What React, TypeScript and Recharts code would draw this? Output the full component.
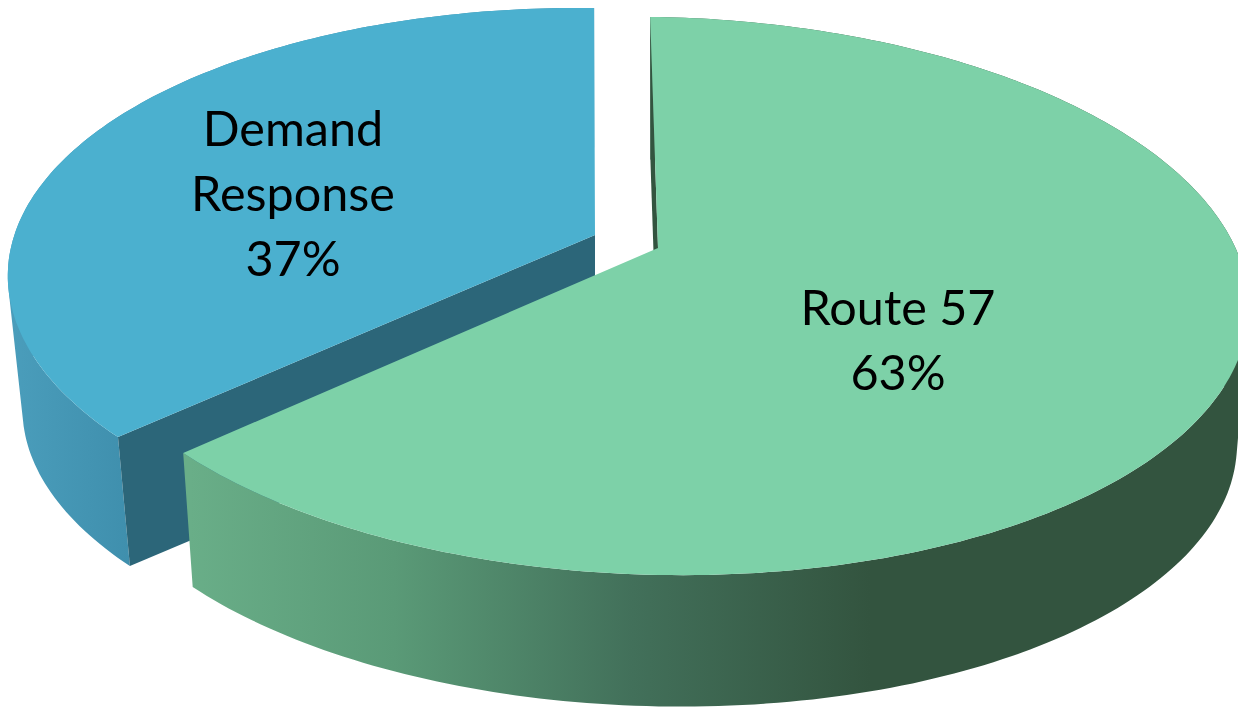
import React from 'react'
import { PieChart, Pie } from 'recharts'

const categories = ['Demand Response', 'Route 57']
const shares = [37, 63]
const labelLines = [['Demand', 'Response'], ['Route 57']]

const rows = categories.map((name, i) => ({ name, value: shares[i], lines: labelLines[i] }))

const PERSPECTIVE = 0.172

// per slice look: shift = explosion offset from the chart centre, walls drop by depth
const looks: any = {
  'Demand Response': {
    top: '#4BB0CF', inner: '#2C6679', shiftX: -63, shiftY: -13, a: 577, b: 266, tilt: 10, lean: -8, depth: 134, shrink: 0.975,
    grad: [[0, '#4A9DBB'], [1, '#3F8FAD']], gradFrom: 12, gradTo: 130, textX: 293, textY: 146,
  },
  'Route 57': {
    top: '#7DD1A8', inner: '#33543F', shiftX: 0, shiftY: 0, a: 582, b: 270.7, tilt: 11, lean: 0, depth: 138, shrink: 0.98,
    grad: [[0, '#69AE88'], [0.3, '#5A9A77'], [0.65, '#42705A'], [1, '#33543F']], gradFrom: 190, gradTo: 870, textX: 898, textY: 325,
  },
}

// recharts angle -> flattened pie rim point
function rim(look: any, cx: number, cy: number, angle: number, scale = 1, drop = 0) {
  const rad = ((90 - angle) * Math.PI) / 180
  const u = Math.sin(rad)
  const v = -Math.cos(rad)
  const w = 1 - PERSPECTIVE * v
  return [
    cx + look.shiftX + (scale * (look.a * u + look.lean * v)) / w,
    cy + look.shiftY + drop + (scale * (look.b * v + look.tilt * u)) / w,
  ]
}

function toPath(points: number[][]) {
  return 'M' + points.map((p) => p[0].toFixed(1) + ' ' + p[1].toFixed(1)).join('L') + 'Z'
}

// all quads wound the same way so the nonzero fill gives their union
function quadPath(a: number[], b: number[], c: number[], d: number[]) {
  const pts = [a, b, c, d]
  let area = 0
  pts.forEach((p, i) => {
    const q = pts[(i + 1) % 4]
    area += p[0] * q[1] - q[0] * p[1]
  })
  return toPath(area < 0 ? [d, c, b, a] : pts)
}

function Slice(props: any) {
  const { cx, cy, startAngle, endAngle, name } = props
  const look = looks[name]
  const steps = Math.ceil(Math.abs(endAngle - startAngle))
  const angles: number[] = []
  for (let i = 0; i <= steps; i++) angles.push(startAngle + ((endAngle - startAngle) * i) / steps)

  const topRim = angles.map((a) => rim(look, cx, cy, a))
  const lowRim = angles.map((a) => rim(look, cx, cy, a, look.shrink, look.depth))
  const apex = [cx + look.shiftX, cy + look.shiftY]
  const apexLow = [apex[0], apex[1] + look.depth]
  const gradId = 'wall-' + name.replace(' ', '-')
  const wall = topRim
    .slice(1)
    .map((p, i) => quadPath(topRim[i], p, lowRim[i + 1], lowRim[i]))
    .join('')

  return (
    <g>
      <defs>
        <linearGradient id={gradId} gradientUnits="userSpaceOnUse" x1={look.gradFrom} x2={look.gradTo} y1={0} y2={0}>
          {look.grad.map((s: any) => (
            <stop key={s[0]} offset={s[0]} stopColor={s[1]} />
          ))}
        </linearGradient>
      </defs>
      <path d={wall} fill={`url(#${gradId})`} />
      <path d={toPath([apex, topRim[0], lowRim[0], apexLow])} fill={look.inner} />
      <path d={toPath([apex, ...topRim])} fill={look.top} />
    </g>
  )
}

function SliceLabel(props: any) {
  const { name, percent } = props
  const look = looks[name]
  const row = rows.find((r) => r.name === name)
  const lines = [...(row ? row.lines : []), Math.round(percent * 100) + '%']
  return (
    <text x={look.textX} textAnchor="middle" fontFamily="Lato" fontSize={48.5} fill="#000">
      {lines.map((line, i) => (
        <tspan key={line} x={look.textX} y={look.textY + i * 65}>
          {line}
        </tspan>
      ))}
    </text>
  )
}

export default function App() {
  return (
    <div style={{ position: 'absolute', left: 0, top: 0, width: 1238, height: 708, overflow: 'hidden' }}>
      <PieChart width={1238} height={708} margin={{ top: 0, right: 0, bottom: 0, left: 0 }}>
        <Pie
          data={rows}
          dataKey="value"
          nameKey="name"
          cx={658}
          cy={248}
          outerRadius={270}
          startAngle={-135.9}
          endAngle={-495.9}
          stroke="none"
          shape={(p: any) => <Slice {...p} />}
          label={(p: any) => <SliceLabel {...p} />}
          labelLine={false}
          isAnimationActive={false}
        />
      </PieChart>
    </div>
  )
}
